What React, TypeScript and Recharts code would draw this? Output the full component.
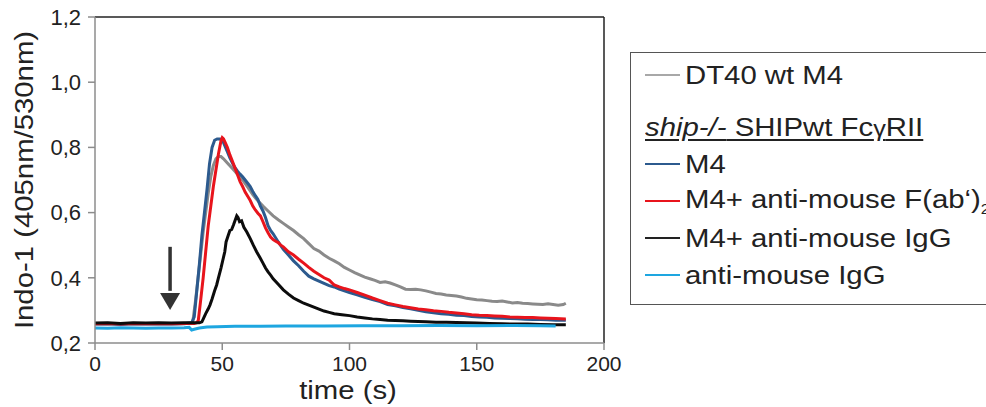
import React from "react";
import { LineChart, Line, XAxis, YAxis, ReferenceLine, ReferenceDot } from "recharts";

// [time (s), Indo-1 ratio]
const dt40M4: [number, number][] = [
  [0, 0.259], [5, 0.26], [10, 0.258], [15, 0.26], [20, 0.259], [25, 0.26], [30, 0.259], [35, 0.26], [38, 0.261],
  [38.5, 0.27], [39.5, 0.33], [40.5, 0.4], [41.5, 0.47], [42.5, 0.54], [43.5, 0.6], [44.5, 0.66], [45.5, 0.71],
  [46.5, 0.745], [47.5, 0.765], [48.5, 0.772], [49.5, 0.772], [50.5, 0.765], [52, 0.752], [54, 0.735], [56, 0.718],
  [58, 0.7], [60, 0.678], [62, 0.655], [64, 0.636], [66, 0.62], [68, 0.605], [70, 0.59], [72, 0.578], [74, 0.567],
  [76, 0.556], [78, 0.545], [80, 0.532], [82, 0.52], [84, 0.505], [86, 0.49], [88, 0.482], [90, 0.47], [92, 0.46],
  [94, 0.452], [96, 0.443], [98, 0.432], [100, 0.424], [102, 0.416], [104, 0.409], [106, 0.402], [108, 0.397],
  [110, 0.392], [112, 0.386], [114, 0.388], [116, 0.384], [118, 0.378], [120, 0.372], [122, 0.365], [124, 0.364],
  [126, 0.365], [128, 0.363], [130, 0.36], [132, 0.356], [134, 0.352], [136, 0.35], [138, 0.347], [140, 0.346],
  [142, 0.344], [144, 0.341], [146, 0.337], [148, 0.335], [150, 0.333], [152, 0.332], [154, 0.33], [156, 0.328],
  [158, 0.327], [160, 0.329], [162, 0.326], [164, 0.323], [166, 0.324], [168, 0.322], [170, 0.321], [172, 0.32],
  [174, 0.319], [176, 0.318], [178, 0.32], [180, 0.318], [182, 0.316], [184, 0.318], [185, 0.322],
];

const m4: [number, number][] = [
  [0, 0.258], [5, 0.259], [10, 0.257], [15, 0.259], [20, 0.258], [25, 0.259], [30, 0.258], [35, 0.259], [38, 0.262],
  [39, 0.28], [40, 0.36], [41, 0.44], [42, 0.53], [43, 0.6], [44, 0.67], [45, 0.75], [46, 0.8], [47, 0.822],
  [48, 0.826], [49, 0.826], [50, 0.824], [51, 0.805], [52, 0.787], [53, 0.768], [54, 0.752], [55, 0.738],
  [56, 0.727], [57, 0.718], [58, 0.71], [59, 0.7], [60, 0.69], [61, 0.68], [62, 0.665], [63, 0.652], [64, 0.64],
  [65, 0.62], [66, 0.605], [67, 0.585], [68, 0.56], [69, 0.545], [70, 0.535], [72, 0.51], [74, 0.487], [76, 0.47],
  [78, 0.452], [80, 0.437], [82, 0.42], [84, 0.405], [86, 0.397], [88, 0.39], [90, 0.383], [92, 0.376], [94, 0.372],
  [96, 0.365], [98, 0.36], [100, 0.355], [103, 0.348], [106, 0.34], [109, 0.333], [112, 0.327], [115, 0.318],
  [118, 0.314], [121, 0.309], [124, 0.305], [127, 0.3], [130, 0.296], [133, 0.293], [136, 0.29], [139, 0.288],
  [142, 0.285], [145, 0.284], [148, 0.281], [151, 0.28], [154, 0.279], [157, 0.277], [160, 0.276], [163, 0.275],
  [166, 0.274], [169, 0.273], [172, 0.272], [175, 0.272], [178, 0.271], [181, 0.27], [185, 0.27],
];

const m4Fab: [number, number][] = [
  [0, 0.259], [5, 0.26], [10, 0.258], [15, 0.26], [20, 0.259], [25, 0.26], [30, 0.259], [35, 0.26], [39, 0.26],
  [40, 0.262], [40.6, 0.27], [41.5, 0.33], [42.5, 0.4], [43.5, 0.48], [44.5, 0.56], [45.5, 0.62], [46.5, 0.68],
  [47.5, 0.73], [48.5, 0.78], [49.5, 0.82], [50, 0.83], [50.5, 0.826], [51, 0.818], [52, 0.8], [53, 0.777],
  [54, 0.757], [55, 0.737], [56, 0.716], [57, 0.695], [58, 0.68], [59, 0.663], [60, 0.65], [61, 0.637], [62, 0.62],
  [63, 0.608], [64, 0.598], [65, 0.59], [66, 0.572], [67, 0.553], [68, 0.538], [69, 0.525], [70, 0.517],
  [71, 0.512], [72, 0.508], [73, 0.5], [74, 0.495], [76, 0.48], [78, 0.47], [80, 0.457], [82, 0.445], [84, 0.432],
  [86, 0.42], [88, 0.41], [90, 0.4], [92, 0.393], [94, 0.378], [96, 0.372], [98, 0.367], [100, 0.363], [103, 0.355],
  [106, 0.347], [109, 0.338], [112, 0.33], [115, 0.322], [118, 0.317], [121, 0.312], [124, 0.308], [127, 0.304],
  [130, 0.302], [133, 0.299], [136, 0.297], [139, 0.294], [142, 0.292], [145, 0.29], [148, 0.287], [151, 0.285],
  [154, 0.284], [157, 0.283], [160, 0.282], [163, 0.28], [166, 0.279], [169, 0.278], [172, 0.278], [175, 0.277],
  [178, 0.276], [181, 0.275], [185, 0.274],
];

const m4IgG: [number, number][] = [
  [0, 0.261], [5, 0.262], [10, 0.26], [15, 0.262], [20, 0.261], [25, 0.262], [30, 0.261], [35, 0.262], [41, 0.262],
  [42, 0.265], [42.6, 0.275], [43.5, 0.29], [44.5, 0.305], [45.2, 0.317], [46, 0.335], [47, 0.36], [47.8, 0.378],
  [48.5, 0.4], [49.5, 0.43], [50.4, 0.46], [51, 0.48], [51.5, 0.51], [52.4, 0.531], [53, 0.545], [53.7, 0.548],
  [54.4, 0.562], [55, 0.575], [55.7, 0.59], [56.2, 0.585], [56.8, 0.572], [57.6, 0.575], [58.5, 0.555],
  [59.6, 0.541], [61, 0.52], [62.2, 0.5], [63.5, 0.48], [64.8, 0.462], [66, 0.445], [67, 0.43], [68, 0.418],
  [69, 0.408], [70, 0.397], [72, 0.38], [74, 0.363], [76, 0.35], [78, 0.338], [80, 0.33], [82, 0.322], [84, 0.316],
  [86, 0.31], [88, 0.304], [90, 0.298], [92, 0.294], [94, 0.29], [97, 0.287], [100, 0.284], [103, 0.28],
  [106, 0.277], [109, 0.274], [112, 0.272], [115, 0.27], [118, 0.269], [121, 0.268], [124, 0.267], [127, 0.266],
  [130, 0.265], [134, 0.264], [138, 0.264], [142, 0.263], [146, 0.262], [150, 0.261], [155, 0.26], [160, 0.259],
  [165, 0.258], [170, 0.258], [175, 0.257], [180, 0.256], [185, 0.256],
];

const antiIgG: [number, number][] = [
  [0, 0.246], [5, 0.245], [10, 0.247], [15, 0.246], [20, 0.245], [25, 0.246], [30, 0.246], [35, 0.247],
  [37, 0.248], [38, 0.24], [39, 0.242], [41, 0.246], [44, 0.249], [48, 0.25], [55, 0.251], [65, 0.251],
  [75, 0.252], [90, 0.252], [105, 0.253], [120, 0.253], [135, 0.254], [150, 0.253], [165, 0.254], [175, 0.253],
  [181, 0.252],
];

const xTicks = [0, 50, 100, 150, 200];
const yTicks = [0.2, 0.4, 0.6, 0.8, 1.0, 1.2];

const toRows = (s: [number, number][]) => s.map(([t, v]) => ({ t, v }));

const FONT = "'Liberation Sans', Arial, Helvetica, sans-serif";

const YTick = (props: any) => {
  const { x, y, payload } = props;
  return (
    <text x={x} y={y} dy="0.355em" textAnchor="end" fontSize={22} fill="#222" fontFamily={FONT}>
      {Number(payload.value).toFixed(1).replace(".", ",")}
    </text>
  );
};

const XTick = (props: any) => {
  const { x, y, payload } = props;
  return (
    <text x={x} y={y} dy="0.71em" textAnchor="middle" fontSize={21} fill="#222" fontFamily={FONT}>
      {payload.value}
    </text>
  );
};

const Arrowhead = (p: any) => (
  <polygon
    points={`${p.cx - 10},${p.cy - 17} ${p.cx + 10},${p.cy - 17} ${p.cx},${p.cy}`}
    fill="#333"
  />
);

const series = [
  { name: "DT40 wt M4", data: dt40M4, color: "#8a8a8a", legend: "#a8a8a8" },
  { name: "M4", data: m4, color: "#2c5a8e", legend: "#2c5a8e" },
  { name: "M4+ anti-mouse F(ab‘)2", data: m4Fab, color: "#e8141c", legend: "#e8141c" },
  { name: "M4+ anti-mouse IgG", data: m4IgG, color: "#0c0c0c", legend: "#222" },
  { name: "anti-mouse IgG", data: antiIgG, color: "#1ea6e0", legend: "#1ea6e0" },
];

const LegendRow = ({ top, color, children }: any) => (
  <div style={{ position: "absolute", left: 14, top: top - 52 - 15, height: 30, display: "flex", alignItems: "center", whiteSpace: "nowrap" }}>
    <div style={{ width: 35, height: 2.5, background: color }} />
    <div style={{ marginLeft: 5, transform: "scaleX(1.15)", transformOrigin: "left center", fontSize: 25.5, color: "#222" }}>
      {children}
    </div>
  </div>
);

export default function App() {
  return (
    <div style={{ position: "absolute", left: 0, top: 0, width: 986, height: 407, overflow: "hidden", background: "#fff", fontFamily: FONT }}>
      <LineChart width={986} height={407} margin={{ top: 17, right: 382, bottom: 0, left: 0 }}>
        <XAxis
          type="number"
          dataKey="t"
          domain={[0, 200]}
          ticks={xTicks}
          allowDataOverflow
          height={64}
          stroke="#8c8c8c"
          strokeWidth={1.5}
          tickSize={7}
          tickMargin={6}
          tick={<XTick />}
        />
        <YAxis
          type="number"
          dataKey="v"
          domain={[0.2, 1.2]}
          ticks={yTicks}
          allowDataOverflow
          width={95}
          stroke="#8c8c8c"
          strokeWidth={1.5}
          tickSize={7}
          tickMargin={7}
          tick={<YTick />}
        />
        <ReferenceLine y={1.2} stroke="#222" strokeWidth={1.5} />
        <ReferenceLine x={200} stroke="#222" strokeWidth={1.5} />
        {series.map((s) => (
          <Line
            key={s.name}
            data={toRows(s.data)}
            dataKey="v"
            type="linear"
            stroke={s.color}
            strokeWidth={3}
            dot={false}
            isAnimationActive={false}
            name={s.name}
          />
        ))}
        <ReferenceLine
          segment={[{ x: 29.5, y: 0.495 }, { x: 29.5, y: 0.36 }]}
          stroke="#333"
          strokeWidth={3.5}
        />
        <ReferenceDot x={29.5} y={0.301} r={0} shape={<Arrowhead />} />
      </LineChart>

      <svg width={986} height={407} style={{ position: "absolute", left: 0, top: 0, pointerEvents: "none" }}>
        <text
          transform="translate(24,180) rotate(-90) scale(1.15,1)"
          textAnchor="middle"
          dominantBaseline="central"
          fontSize={25.5}
          fill="#222"
          fontFamily={FONT}
        >
          Indo-1 (405nm/530nm)
        </text>
        <text
          transform="translate(348,399) scale(1.15,1)"
          textAnchor="middle"
          fontSize={25.5}
          fill="#222"
          fontFamily={FONT}
        >
          time (s)
        </text>
      </svg>

      <div style={{ position: "absolute", left: 630, top: 52, width: 400, height: 253, border: "1.5px solid #555", boxSizing: "border-box" }}>
        <LegendRow top={74} color={series[0].legend}>DT40 wt M4</LegendRow>
        <div style={{ position: "absolute", left: 14, top: 126 - 52 - 15, height: 30, display: "flex", alignItems: "center", whiteSpace: "nowrap" }}>
          <div style={{ transform: "scaleX(1.15)", transformOrigin: "left center", fontSize: 25.5, color: "#222", textDecoration: "underline", textUnderlineOffset: 3 }}>
            <i>ship-/-</i> SHIPwt Fc<span style={{ fontSize: 22 }}>γ</span>RII
          </div>
        </div>
        <LegendRow top={163} color={series[1].legend}>M4</LegendRow>
        <LegendRow top={200} color={series[2].legend}>
          M4+ anti-mouse F(ab‘)<sub style={{ fontSize: 14 }}>2</sub>
        </LegendRow>
        <LegendRow top={237} color={series[3].legend}>M4+ anti-mouse IgG</LegendRow>
        <LegendRow top={274} color={series[4].legend}>anti-mouse IgG</LegendRow>
      </div>
    </div>
  );
}
